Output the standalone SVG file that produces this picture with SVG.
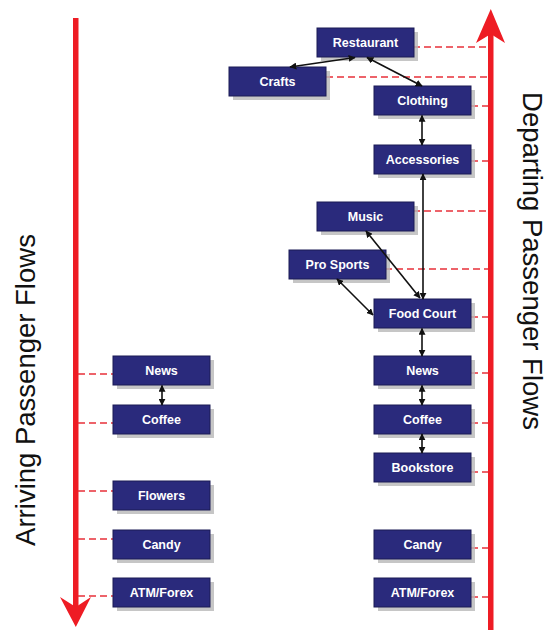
<svg xmlns="http://www.w3.org/2000/svg" width="547" height="630" viewBox="0 0 547 630">
<style>
.box{fill:#2a2a7c;stroke:#1a1a55;stroke-width:1}
.sh{fill:#b8b8b8;opacity:0.8}
.lbl{font-family:"Liberation Sans",Arial,sans-serif;font-weight:bold;font-size:12.5px;fill:#ffffff;text-anchor:middle}
.dash{stroke:#e8303a;stroke-width:1.6;stroke-dasharray:7,4;fill:none}
.con{stroke:#111111;stroke-width:1.6;fill:none;marker-start:url(#ah);marker-end:url(#ah)}
.flow{fill:#ee1c24}
.title{font-family:"Liberation Sans",Arial,sans-serif;font-size:27.5px;fill:#111111;text-anchor:middle}
</style>
<defs>
<marker id="ah" viewBox="0 0 10 10" refX="9" refY="5" markerWidth="7" markerHeight="7" markerUnits="userSpaceOnUse" orient="auto-start-reverse">
<path d="M0,0 L10,5 L0,10 Z" fill="#111111"/>
</marker>
</defs>
<rect width="547" height="630" fill="#ffffff"/>

<g id="flows">
<rect class="flow" x="73" y="18" width="5.5" height="590"/>
<path class="flow" d="M60,597 L75.8,627 L91,597 L75.8,607 Z"/>
<rect class="flow" x="488" y="32" width="5.5" height="598"/>
<path class="flow" d="M476,43 L490.8,9 L505,43 L490.8,34 Z"/>
<text class="title" transform="translate(35,390) rotate(-90)">Arriving Passenger Flows</text>
<text class="title" transform="translate(523,261) rotate(90)">Departing Passenger Flows</text>
</g>

<g id="dashes">
<path class="dash" d="M413,47 H488 M326,77 H488 M471,106 H488 M471,161 H488 M413,211 H488 M385,269 H488 M471,317 H488 M471,373 H488 M471,423 H488 M471,472 H488 M471,548 H488 M471,597 H488"/>
<path class="dash" d="M78,374 H113 M78,423 H113 M78,491 H113 M78,539 H113 M78,596 H113"/>
</g>

<g id="n-restaurant"><rect class="sh" x="321" y="32" width="97" height="29"/><rect class="box" x="317" y="28" width="97" height="29"/><text class="lbl" x="365.5" y="47">Restaurant</text></g>
<g id="n-crafts"><rect class="sh" x="233" y="71" width="97" height="29"/><rect class="box" x="229" y="67" width="97" height="29"/><text class="lbl" x="277.5" y="86">Crafts</text></g>
<g id="n-clothing"><rect class="sh" x="378" y="90" width="97" height="29"/><rect class="box" x="374" y="86" width="97" height="29"/><text class="lbl" x="422.5" y="105">Clothing</text></g>
<g id="n-accessories"><rect class="sh" x="378" y="149" width="97" height="29"/><rect class="box" x="374" y="145" width="97" height="29"/><text class="lbl" x="422.5" y="164">Accessories</text></g>
<g id="n-music"><rect class="sh" x="321" y="206" width="97" height="29"/><rect class="box" x="317" y="202" width="97" height="29"/><text class="lbl" x="365.5" y="221">Music</text></g>
<g id="n-prosports"><rect class="sh" x="293" y="254" width="97" height="29"/><rect class="box" x="289" y="250" width="97" height="29"/><text class="lbl" x="337.5" y="269">Pro Sports</text></g>
<g id="n-foodcourt"><rect class="sh" x="378" y="303" width="97" height="29"/><rect class="box" x="374" y="299" width="97" height="29"/><text class="lbl" x="422.5" y="318">Food Court</text></g>
<g id="n-news-r"><rect class="sh" x="378" y="360" width="97" height="29"/><rect class="box" x="374" y="356" width="97" height="29"/><text class="lbl" x="422.5" y="375">News</text></g>
<g id="n-coffee-r"><rect class="sh" x="378" y="409" width="97" height="29"/><rect class="box" x="374" y="405" width="97" height="29"/><text class="lbl" x="422.5" y="424">Coffee</text></g>
<g id="n-bookstore"><rect class="sh" x="378" y="457" width="97" height="29"/><rect class="box" x="374" y="453" width="97" height="29"/><text class="lbl" x="422.5" y="472">Bookstore</text></g>
<g id="n-candy-r"><rect class="sh" x="378" y="534" width="97" height="29"/><rect class="box" x="374" y="530" width="97" height="29"/><text class="lbl" x="422.5" y="549">Candy</text></g>
<g id="n-atm-r"><rect class="sh" x="378" y="582" width="97" height="29"/><rect class="box" x="374" y="578" width="97" height="29"/><text class="lbl" x="422.5" y="597">ATM/Forex</text></g>
<g id="n-news-l"><rect class="sh" x="117" y="360" width="97" height="29"/><rect class="box" x="113" y="356" width="97" height="29"/><text class="lbl" x="161.5" y="375">News</text></g>
<g id="n-coffee-l"><rect class="sh" x="117" y="409" width="97" height="29"/><rect class="box" x="113" y="405" width="97" height="29"/><text class="lbl" x="161.5" y="424">Coffee</text></g>
<g id="n-flowers"><rect class="sh" x="117" y="485" width="97" height="29"/><rect class="box" x="113" y="481" width="97" height="29"/><text class="lbl" x="161.5" y="500">Flowers</text></g>
<g id="n-candy-l"><rect class="sh" x="117" y="534" width="97" height="29"/><rect class="box" x="113" y="530" width="97" height="29"/><text class="lbl" x="161.5" y="549">Candy</text></g>
<g id="n-atm-l"><rect class="sh" x="117" y="582" width="97" height="29"/><rect class="box" x="113" y="578" width="97" height="29"/><text class="lbl" x="161.5" y="597">ATM/Forex</text></g>

<g id="connectors">
<path class="con" d="M355,57.5 L290,67"/>
<path class="con" d="M367,57.5 L422,86"/>
<path class="con" d="M422,115.5 L422,145"/>
<path class="con" d="M423,174 L423,299"/>
<path class="con" d="M366,231 L420,298"/>
<path class="con" d="M337,279 L373,315"/>
<path class="con" d="M422,328.5 L422,356"/>
<path class="con" d="M422,385.5 L422,405"/>
<path class="con" d="M422,434 L422,453"/>
<path class="con" d="M162,385.5 L162,405"/>
</g>
</svg>
